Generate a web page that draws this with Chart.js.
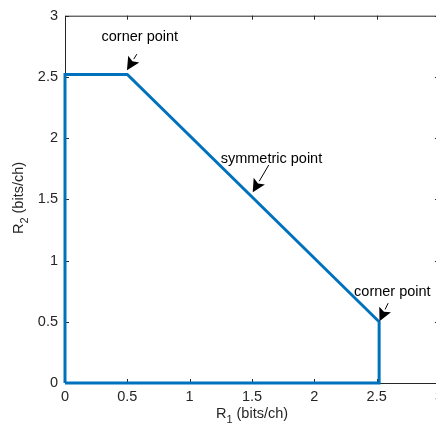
<!DOCTYPE html>
<html>
<head>
<meta charset="utf-8">
<script src="https://cdn.jsdelivr.net/npm/chart.js@4/dist/chart.umd.min.js"></script>
<style>
html,body{margin:0;padding:0;overflow:hidden;background:#fff;width:436px;height:432px;}
#wrap{position:absolute;left:0;top:0;width:448px;height:432px;}
</style>
</head>
<body>
<div id="wrap"><canvas id="c" width="448" height="432" style="width:448px;height:432px;"></canvas></div>
<script>
// ---- data ----
const regionR1 = [0, 0, 0.5, 2.52, 2.52, 0];
const regionR2 = [0, 2.52, 2.52, 0.5, 0, 0];
const xTicks = [0, 0.5, 1, 1.5, 2, 2.5, 3];
const yTicks = [0, 0.5, 1, 1.5, 2, 2.5, 3];
const annoText = ['corner point', 'symmetric point', 'corner point'];
const annoTextX = [0.6, 1.656, 2.626];
const annoTextY = [2.825, 1.83, 0.745];
const arrowTailX = [0.576, 1.634, 2.592];
const arrowTailY = [2.686, 1.78, 0.652];
const arrowTipX = [0.497, 1.506, 2.523];
const arrowTipY = [2.555, 1.557, 0.505];

const FONT = "'Liberation Sans', Arial, Helvetica, sans-serif";
const AXC = '#262626';
const FS = 14.5;

const boxPlugin = {
  id: 'box',
  beforeDatasetsDraw(chart) {
    const {ctx, chartArea: a, scales: {x, y}} = chart;
    ctx.save();
    ctx.strokeStyle = AXC;
    ctx.lineWidth = 1;
    ctx.beginPath();
    ctx.rect(a.left + 0.5, a.top + 0.5, a.right - a.left, a.bottom - a.top);
    ctx.stroke();
    const tl = 4;
    ctx.beginPath();
    xTicks.forEach(v => {
      const px = Math.round(x.getPixelForValue(v)) + 0.5;
      ctx.moveTo(px, a.bottom); ctx.lineTo(px, a.bottom - tl);
      ctx.moveTo(px, a.top); ctx.lineTo(px, a.top + tl);
    });
    yTicks.forEach(v => {
      const py = Math.round(y.getPixelForValue(v)) + 0.5;
      ctx.moveTo(a.left, py); ctx.lineTo(a.left + tl, py);
      ctx.moveTo(a.right, py); ctx.lineTo(a.right - tl, py);
    });
    ctx.stroke();
    ctx.restore();
  },
  afterDraw(chart) {
    const {ctx, chartArea: a, scales: {x, y}} = chart;
    ctx.save();
    ctx.fillStyle = '#000';
    ctx.strokeStyle = '#000';
    // annotations
    ctx.font = FS + 'px ' + FONT;
    ctx.textAlign = 'center';
    ctx.textBaseline = 'middle';
    for (let i = 0; i < annoText.length; i++) {
      ctx.fillText(annoText[i], x.getPixelForValue(annoTextX[i]), y.getPixelForValue(annoTextY[i]));
      const x0 = x.getPixelForValue(arrowTailX[i]), y0 = y.getPixelForValue(arrowTailY[i]);
      const x1 = x.getPixelForValue(arrowTipX[i]), y1 = y.getPixelForValue(arrowTipY[i]);
      const ang = Math.atan2(y1 - y0, x1 - x0);
      const hl = 13, hw = 6.5;
      const bx = x1 - hl * Math.cos(ang), by = y1 - hl * Math.sin(ang);
      ctx.lineWidth = 1;
      ctx.beginPath(); ctx.moveTo(x0, y0); ctx.lineTo(bx, by); ctx.stroke();
      ctx.beginPath();
      ctx.moveTo(x1, y1);
      ctx.lineTo(bx + hw * Math.sin(ang), by - hw * Math.cos(ang));
      ctx.lineTo(x1 - 0.8 * hl * Math.cos(ang), y1 - 0.8 * hl * Math.sin(ang));
      ctx.lineTo(bx - hw * Math.sin(ang), by + hw * Math.cos(ang));
      ctx.closePath(); ctx.fill();
    }
    // axis titles with subscripts
    ctx.fillStyle = AXC;
    function drawSub(main, sub, rest, cx, cy) {
      const fMain = FS + 'px ' + FONT, fSub = Math.round(FS * 0.78) + 'px ' + FONT;
      ctx.font = fMain; const w1 = ctx.measureText(main).width;
      const w3 = ctx.measureText(rest).width;
      ctx.font = fSub; const w2 = ctx.measureText(sub).width;
      let sx = cx - (w1 + w2 + w3) / 2;
      ctx.textAlign = 'left'; ctx.textBaseline = 'alphabetic';
      ctx.font = fMain; ctx.fillText(main, sx, cy);
      ctx.font = fSub; ctx.fillText(sub, sx + w1, cy + 5);
      ctx.font = fMain; ctx.fillText(rest, sx + w1 + w2, cy);
    }
    drawSub('R', '1', ' (bits/ch)', 252, 418);
    ctx.save();
    ctx.translate(23, 198);
    ctx.rotate(-Math.PI / 2);
    drawSub('R', '2', ' (bits/ch)', 0, 0);
    ctx.restore();
    ctx.restore();
  }
};

new Chart(document.getElementById('c'), {
  type: 'scatter',
  data: {
    datasets: [{
      data: regionR1.map((v, i) => ({x: v, y: regionR2[i]})),
      showLine: true,
      borderColor: '#0072BD',
      borderWidth: 3,
      pointRadius: 0,
      fill: false,
      tension: 0,
      clip: 6
    }]
  },
  options: {
    responsive: false,
    animation: false,
    devicePixelRatio: 1,
    layout: {padding: {left: 0, top: 10, right: 9, bottom: 0}},
    plugins: {legend: {display: false}, tooltip: {enabled: false}},
    scales: {
      x: {
        type: 'linear', min: 0, max: 3,
        afterBuildTicks: s => { s.ticks = xTicks.map(v => ({value: v})); },
        afterFit: s => { s.height = 49; },
        grid: {display: false, drawTicks: false},
        border: {display: false},
        ticks: {padding: 5, color: AXC, font: {family: FONT, size: FS}, maxRotation: 0, autoSkip: false,
          callback: v => String(v)}
      },
      y: {
        type: 'linear', min: 0, max: 3,
        afterBuildTicks: s => { s.ticks = yTicks.map(v => ({value: v})); },
        afterFit: s => { s.width = 65; },
        grid: {display: false, drawTicks: false},
        border: {display: false},
        ticks: {padding: 7, color: AXC, font: {family: FONT, size: FS}, autoSkip: false,
          callback: v => String(v)}
      }
    }
  },
  plugins: [boxPlugin]
});
</script>
</body>
</html>
